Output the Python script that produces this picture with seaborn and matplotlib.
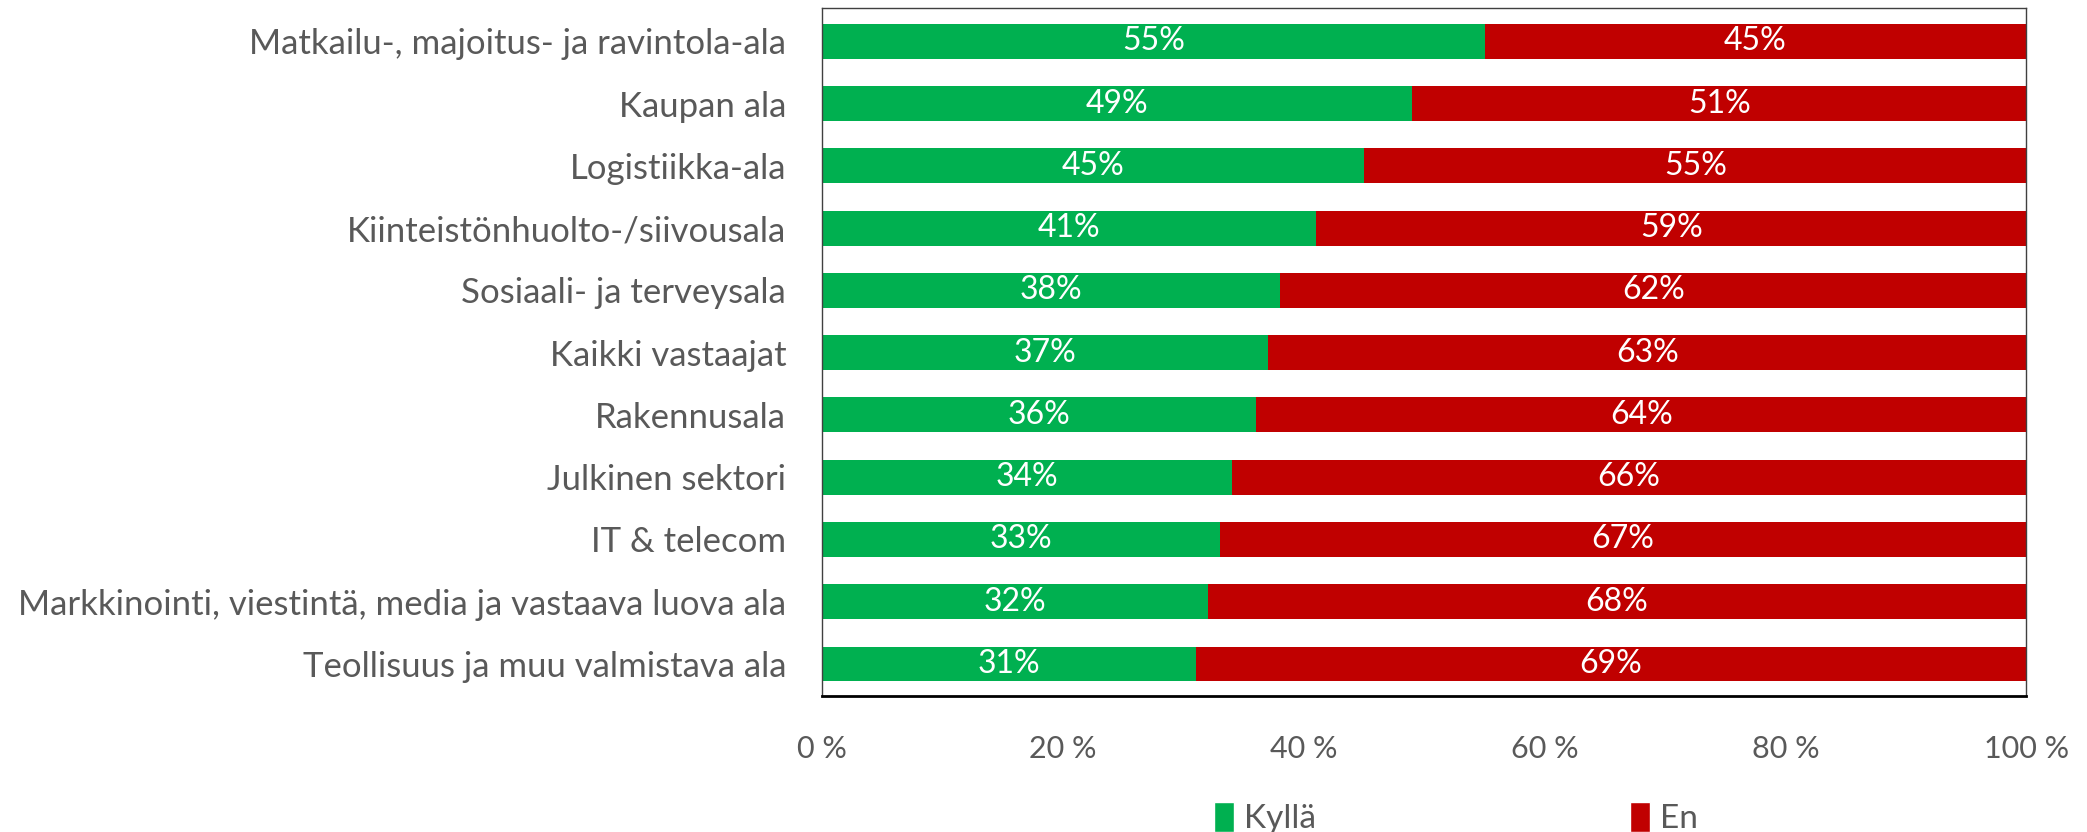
import pandas as pd
import matplotlib.pyplot as plt
import seaborn as sns
from matplotlib.patches import Patch

# Chart data
categories = [
    'Matkailu-, majoitus- ja ravintola-ala',
    'Kaupan ala',
    'Logistiikka-ala',
    'Kiinteistönhuolto-/siivousala',
    'Sosiaali- ja terveysala',
    'Kaikki vastaajat',
    'Rakennusala',
    'Julkinen sektori',
    'IT & telecom',
    'Markkinointi, viestintä, media ja vastaava luova ala',
    'Teollisuus ja muu valmistava ala',
]
kylla = [55, 49, 45, 41, 38, 37, 36, 34, 33, 32, 31]
en = [45, 51, 55, 59, 62, 63, 64, 66, 67, 68, 69]
series_names = ['Kyllä', 'En']
xticks = [0, 20, 40, 60, 80, 100]

green = '#00B050'
red = '#C00000'
text_grey = '#595959'

df = pd.DataFrame({'ala': categories, 'kylla': kylla, 'en': en})
df['total'] = df['kylla'] + df['en']

sns.set_style('white')
plt.rcParams['font.family'] = ['Lato', 'DejaVu Sans']

fig, ax = plt.subplots(figsize=(20.87, 8.32), dpi=100)
fig.subplots_adjust(left=0.394, right=0.971, top=0.990, bottom=0.163)

# Stacked bars: full bar in red, Kyllä part over it in green
sns.barplot(data=df, x='total', y='ala', color=red, orient='h', width=0.56,
            saturation=1, linewidth=0, ax=ax)
sns.barplot(data=df, x='kylla', y='ala', color=green, orient='h', width=0.56,
            saturation=1, linewidth=0, ax=ax)

# Percentage labels
for i, row in df.iterrows():
    ax.text(row['kylla'] / 2, i, f"{row['kylla']}%", ha='center', va='center',
            color='white', fontsize=23)
    ax.text(row['kylla'] + row['en'] / 2, i, f"{row['en']}%", ha='center',
            va='center', color='white', fontsize=23)

ax.set_xlim(0, 100)
ax.set_ylim(len(categories) - 0.5 + 0.02, -0.5 - 0.03)
ax.set_xticks(xticks)
ax.set_xticklabels([f'{t} %' for t in xticks])
ax.set_xlabel('')
ax.set_ylabel('')
ax.tick_params(axis='x', length=0, pad=28, labelsize=22, labelcolor=text_grey)
ax.tick_params(axis='y', length=0, pad=26, labelsize=25, labelcolor=text_grey)

for side in ['top', 'right', 'left']:
    ax.spines[side].set_color('#404040')
    ax.spines[side].set_linewidth(1.0)
ax.spines['bottom'].set_color('black')
ax.spines['bottom'].set_linewidth(2.0)

handles = [Patch(facecolor=green, label=series_names[0]),
           Patch(facecolor=red, label=series_names[1])]
leg = fig.legend(handles=handles, loc='center', ncol=2,
                 bbox_to_anchor=(1456 / 2087, 1 - 818 / 832), frameon=False,
                 fontsize=24, handlelength=0.6, handleheight=1.0,
                 handletextpad=0.3, columnspacing=9.4)
for t in leg.get_texts():
    t.set_color(text_grey)

plt.savefig('out.png', dpi=100)
